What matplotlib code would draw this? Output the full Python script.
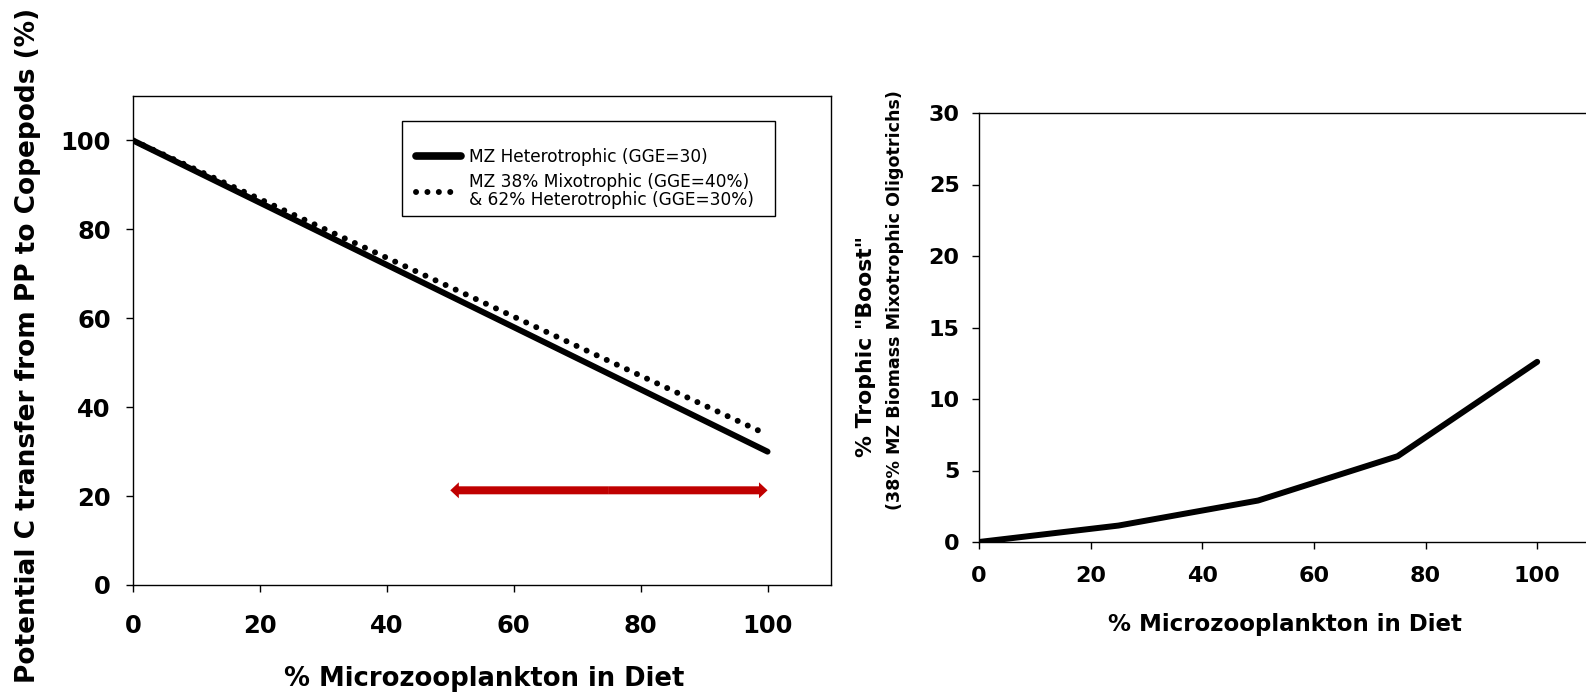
import matplotlib
matplotlib.use("Agg")
import matplotlib.pyplot as plt
from matplotlib.lines import Line2D
from matplotlib.patches import Rectangle

plt.rcParams['font.family'] = ['DejaVu Sans']

# Left panel data
mz_diet = [0, 25, 50, 75, 100]
hetero = [100, 82.5, 65, 47.5, 30]
mixo = [100, 83.5, 67, 50.4, 33.8]
legend_labels = ["MZ Heterotrophic (GGE=30)",
                 "MZ 38% Mixotrophic (GGE=40%)\n& 62% Heterotrophic (GGE=30%)"]
arrow_range = [50, 100]
arrow_y = 21.3

# Right panel data
boost_x = [0, 25, 50, 75, 100]
boost_y = [0, 1.15, 2.9, 6.0, 12.6]

xticks = [0, 20, 40, 60, 80, 100]
left_yticks = [0, 20, 40, 60, 80, 100]
right_yticks = [0, 5, 10, 15, 20, 25, 30]

W, H = 1586, 695
fig = plt.figure(figsize=(W / 100, H / 100), dpi=100)
RED = '#C00000'


def fx(px):
    return px / W


def fy(py):
    return 1 - py / H


renderer = fig.canvas.get_renderer()


def fit(txt, target, vertical=False):
    """Scale font size so that the text spans target pixels along its reading direction."""
    for _ in range(3):
        bb = txt.get_window_extent(renderer=renderer)
        cur = bb.height if vertical else bb.width
        txt.set_fontsize(txt.get_fontsize() * target / cur)


# ---- Left axes ----
axL = fig.add_axes([fx(133), fy(585), fx(831) - fx(133), fy(96) - fy(585)])
axL.plot(mz_diet, hetero, color='black', lw=4.3, solid_capstyle='round')
axL.plot(mz_diet, mixo, color='black', lw=4.3, linestyle=(0, (0.01, 1.85)),
         dash_capstyle='round')
mid = (arrow_range[0] + arrow_range[1]) / 2
for end in arrow_range:
    axL.arrow(mid, arrow_y, end - mid, 0, width=1.8, head_width=3.6,
              head_length=1.35, length_includes_head=True, color=RED, lw=0)
axL.set_xlim(0, 110)
axL.set_ylim(0, 110)
axL.set_xticks(xticks)
axL.set_yticks(left_yticks)
axL.tick_params(direction='out', length=5, width=1, labelsize=17.5)
axL.tick_params(axis='x', pad=16)
axL.tick_params(axis='y', pad=11)
for lab in axL.get_xticklabels() + axL.get_yticklabels():
    lab.set_fontweight('bold')
for sp in axL.spines.values():
    sp.set_linewidth(1.0)

# legend frame and legend
axL.add_patch(Rectangle((fx(402), fy(216)), fx(775) - fx(402), fy(121) - fy(216),
                        transform=fig.transFigure, facecolor='white',
                        edgecolor='black', lw=1.0, zorder=4, clip_on=False))
handles = [Line2D([0], [0], color='black', lw=5.5, solid_capstyle='round'),
           Line2D([0], [0], color='black', lw=4.3, linestyle=(0, (0.01, 1.9)),
                  dash_capstyle='round')]
leg = axL.legend(handles, legend_labels, loc='upper left',
                 bbox_to_anchor=(fx(416), fy(148)), bbox_transform=fig.transFigure,
                 frameon=False, fontsize=12.5,
                 handlelength=2.6, handletextpad=0.45, borderpad=0,
                 labelspacing=0.42, borderaxespad=0)
leg.set_zorder(6)
leg_texts = leg.get_texts()
fit(leg_texts[0], 241)
for t in leg_texts:
    t.set_fontsize(leg_texts[0].get_fontsize())
leg_texts[1].set_linespacing(1.0)

xlL = fig.text(fx(484), fy(679), '% Microzooplankton in Diet', ha='center',
               va='center', fontsize=18, fontweight='bold')
fit(xlL, 400)
ylL = fig.text(fx(28), fy(345), 'Potential C transfer from PP to Copepods (%)',
               ha='center', va='center', rotation=90, fontsize=18,
               fontweight='bold')
fit(ylL, 675, vertical=True)

# ---- Right axes ----
axR = fig.add_axes([fx(979), fy(542), fx(1593) - fx(979), fy(113) - fy(542)])
axR.plot(boost_x, boost_y, color='black', lw=4.3, solid_capstyle='round',
         solid_joinstyle='round')
axR.set_xlim(0, 110)
axR.set_ylim(0, 30)
axR.set_xticks(xticks)
axR.set_yticks(right_yticks)
axR.tick_params(direction='out', length=5, width=1, labelsize=16)
axR.tick_params(axis='x', pad=12)
axR.tick_params(axis='y', pad=9)
for lab in axR.get_xticklabels() + axR.get_yticklabels():
    lab.set_fontweight('bold')
for sp in axR.spines.values():
    sp.set_linewidth(1.0)

xlR = fig.text(fx(1285), fy(625), '% Microzooplankton in Diet', ha='center',
               va='center', fontsize=16, fontweight='bold')
fit(xlR, 353)
yl1 = fig.text(fx(866), fy(346), '% Trophic "Boost"', ha='center', va='center',
               rotation=90, fontsize=16, fontweight='bold')
fit(yl1, 221, vertical=True)
yl2 = fig.text(fx(895), fy(300), '(38% MZ Biomass Mixotrophic Oligotrichs)',
               ha='center', va='center', rotation=90, fontsize=13,
               fontweight='bold')
fit(yl2, 422, vertical=True)

fig.savefig('out.png', dpi=100)
